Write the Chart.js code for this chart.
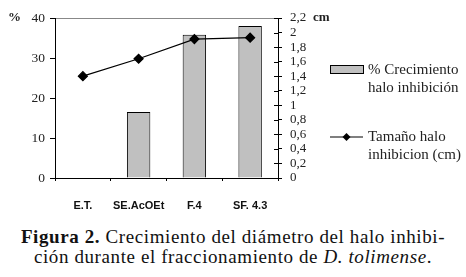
<!DOCTYPE html>
<html><head><meta charset="utf-8">
<script src="https://cdn.jsdelivr.net/npm/chart.js@4.4.0/dist/chart.umd.min.js"></script>
<style>
html,body{margin:0;padding:0;background:#fff;}
#wrap{position:relative;width:466px;height:277px;overflow:hidden;}
#c{position:absolute;left:0;top:0;}
#cap{position:absolute;left:0;top:227px;width:466px;text-align:center;font-family:'Liberation Serif';font-size:19px;letter-spacing:0.6px;line-height:20px;color:#111;white-space:nowrap;}
</style></head>
<body><div id="wrap"><canvas id="c" width="466" height="220"></canvas>
<div id="cap"><b>Figura 2.</b> Crecimiento del diámetro del halo inhibi-<br>ción durante el fraccionamiento de <i>D. tolimense</i>.</div></div>
<script>
const categories = ['E.T.', 'SE.AcOEt', 'F.4', 'SF. 4.3'];
const growthPct = [0, 16.5, 35.8, 38];
const haloCm = [1.4, 1.64, 1.91, 1.93];
const leftTicks = [0, 10, 20, 30, 40];
const rightTicks = [0, 0.2, 0.4, 0.6, 0.8, 1, 1.2, 1.4, 1.6, 1.8, 2, 2.2];
const seriesNames = [['% Crecimiento', 'halo inhibición'], ['Tamaño halo', 'inhibicion (cm)']];

const serif = "'Liberation Serif'";

const extras = {
  id: 'extras',
  afterDraw(chart) {
    const ctx = chart.ctx;
    const a = chart.chartArea;
    ctx.save();
    ctx.fillStyle = '#222';
    ctx.font = 'bold 13px ' + serif;
    ctx.textBaseline = 'middle';
    ctx.textAlign = 'left';
    ctx.fillText('%', 8, a.top);
    ctx.fillText('cm', 313, a.top);
    const yr = chart.scales.yR;
    ctx.strokeStyle = '#000';
    ctx.lineWidth = 1;
    yr.ticks.forEach(t => {
      const y = Math.round(yr.getPixelForValue(t.value)) + 0.5;
      ctx.beginPath();
      ctx.moveTo(a.right - 4, y);
      ctx.lineTo(a.right, y);
      ctx.stroke();
    });
    const bar = chart.data.datasets[1], line = chart.data.datasets[0];
    ctx.fillStyle = bar.backgroundColor;
    ctx.fillRect(330.5, 65.5, 33, 8);
    ctx.strokeStyle = bar.borderColor;
    ctx.strokeRect(330.5, 65.5, 33, 8);
    ctx.font = '15px ' + serif;
    ctx.fillStyle = '#222';
    ctx.fillText(seriesNames[0][0], 368, 70);
    ctx.fillText(seriesNames[0][1], 368, 88);
    ctx.strokeStyle = line.borderColor;
    ctx.lineWidth = 1.2;
    ctx.beginPath();
    ctx.moveTo(330, 137);
    ctx.lineTo(363, 137);
    ctx.stroke();
    ctx.fillStyle = '#000';
    ctx.beginPath();
    ctx.moveTo(346.5, 133); ctx.lineTo(350.5, 137); ctx.lineTo(346.5, 141); ctx.lineTo(342.5, 137); ctx.closePath();
    ctx.fill();
    ctx.fillStyle = '#222';
    ctx.fillText(seriesNames[1][0], 368, 137);
    ctx.fillText(seriesNames[1][1], 368, 155);
    ctx.restore();
  }
};

new Chart(document.getElementById('c'), {
  data: {
    labels: categories,
    datasets: [
      { type: 'line', label: seriesNames[1].join(' '), data: haloCm, yAxisID: 'yR',
        borderColor: '#000', borderWidth: 1.2, pointStyle: 'rectRot', pointRadius: 4.5,
        pointBackgroundColor: '#000', pointBorderColor: '#000', tension: 0, order: 0 },
      { type: 'bar', label: seriesNames[0].join(' '), data: growthPct, yAxisID: 'yL',
        backgroundColor: '#c0c0c0', borderColor: '#000', borderWidth: 1,
        barPercentage: 0.42, categoryPercentage: 1, order: 1 }
    ]
  },
  options: {
    responsive: false, animation: false, devicePixelRatio: 1,
    layout: { padding: { top: 18, left: 0, right: 0, bottom: 0 } },
    plugins: { legend: { display: false }, tooltip: { enabled: false } },
    scales: {
      x: {
        offset: true,
        grid: { offset: true, drawOnChartArea: false, tickLength: 3, color: '#000' },
        border: { color: '#000', width: 1 },
        ticks: { color: '#111', padding: 18, maxRotation: 0, minRotation: 0, autoSkip: false,
          font: { family: "'Liberation Sans'", size: 11, weight: 'bold' } },
        afterFit(s) { s.height = 42; }
      },
      yL: {
        position: 'left', min: 0, max: 40,
        afterBuildTicks(s) { s.ticks = leftTicks.map(v => ({ value: v })); },
        grid: { drawOnChartArea: true, tickLength: 5,
          color: c => (c.tick && c.tick.value === 40) ? '#888' : 'rgba(0,0,0,0)',
          tickColor: '#000' },
        border: { color: '#000', width: 1 },
        ticks: { color: '#222', padding: 5, autoSkip: false, font: { family: serif, size: 13.5 } },
        afterFit(s) { s.width = 55; }
      },
      yR: {
        position: 'right', min: 0, max: 2.2,
        afterBuildTicks(s) { s.ticks = rightTicks.map(v => ({ value: v })); },
        grid: { drawOnChartArea: false, tickLength: 4, color: '#000' },
        border: { color: '#000', width: 1 },
        ticks: { color: '#222', padding: 8, autoSkip: false, font: { family: serif, size: 13 },
          callback: v => String(Number(v.toFixed(1))).replace('.', ',') },
        afterFit(s) { s.width = 188; }
      }
    }
  },
  plugins: [extras]
});
</script></body></html>
